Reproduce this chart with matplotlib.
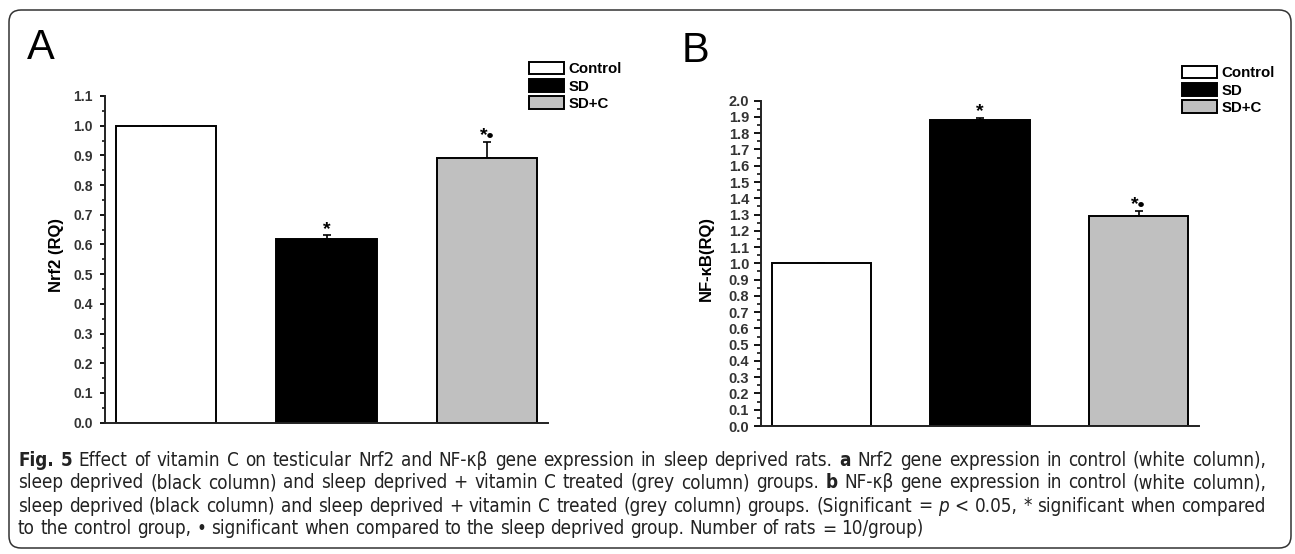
import numpy as np
import matplotlib
matplotlib.use("Agg")
import matplotlib.pyplot as plt
from matplotlib import font_manager
from matplotlib.patches import FancyBboxPatch
from matplotlib.transforms import IdentityTransform
from matplotlib.ticker import MultipleLocator, FormatStrFormatter

# data
groups = ["Control", "SD", "SD+C"]
bar_colors = ["white", "black", "#c0c0c0"]

nrf2_mean = [1.00, 0.62, 0.89]
nrf2_err = [0.0, 0.012, 0.055]
nrf2_marks = ["", "*", "*\u2022"]

nfkb_mean = [1.00, 1.88, 1.29]
nfkb_err = [0.0, 0.015, 0.03]
nfkb_marks = ["", "*", "*\u2022"]

caption_lines = [
    "!Fig. !5 Effect of vitamin C on testicular Nrf2 and NF-\u03ba\u03b2 gene expression in sleep deprived rats. !a Nrf2 gene expression in control (white column),",
    "sleep deprived (black column) and sleep deprived + vitamin C treated (grey column) groups. !b NF-\u03ba\u03b2 gene expression in control (white column),",
    "sleep deprived (black column) and sleep deprived + vitamin C treated (grey column) groups. (Significant = ~p < 0.05, * significant when compared",
    "to the control group, \u2022 significant when compared to the sleep deprived group. Number of rats = 10/group)",
]

W, H = 1295, 554
plt.rcParams["font.family"] = ["Liberation Sans", "DejaVu Sans"]
fig = plt.figure(figsize=(W / 100, H / 100), dpi=100)


def panel(rect, means, errs, marks, ytop, ylabel, lab_xy, fs, tick_len, pad):
    ax = fig.add_axes(rect)
    x = np.arange(len(groups))
    bars = ax.bar(x, means, width=0.625, color=bar_colors, edgecolor="black",
                  linewidth=1.4, zorder=2)
    ax.errorbar(x, means, yerr=[np.zeros(len(errs)), errs], fmt="none",
                ecolor="black", elinewidth=1.2, capsize=3.2, capthick=1.2, zorder=1)
    for xi, m, e, s in zip(x, means, errs, marks):
        if s:
            ax.annotate(s, xy=(xi, m + e), xytext=(0, 1), textcoords="offset points",
                        ha="center", va="baseline", fontsize=14, fontweight="bold")
    ax.set_xlim(-0.38, 2.38)
    ax.set_ylim(0, ytop)
    ax.set_xticks([])
    ax.yaxis.set_major_locator(MultipleLocator(0.1))
    ax.yaxis.set_minor_locator(MultipleLocator(0.05))
    ax.yaxis.set_major_formatter(FormatStrFormatter("%.1f"))
    ax.tick_params(axis="y", which="major", length=tick_len, width=1.3, pad=pad,
                   labelsize=fs, labelcolor="#333333")
    ax.tick_params(axis="y", which="minor", length=tick_len * 0.6, width=1.1)
    for t in ax.get_yticklabels():
        t.set_fontweight("bold")
    for sp in ["top", "right"]:
        ax.spines[sp].set_visible(False)
    for sp in ["left", "bottom"]:
        ax.spines[sp].set_linewidth(1.4)
        ax.spines[sp].set_color("#222222")
    ax.set_ylabel(ylabel, fontsize=12, fontweight="bold")
    ax.yaxis.set_label_coords(*lab_xy)
    return ax, bars


axA, barsA = panel([105 / W, 1 - 422.7 / H, 443 / W, 326.7 / H], nrf2_mean, nrf2_err,
                   nrf2_marks, 1.1, "Nrf2 (RQ)", (-0.093, 0.513), 10, 3.6, 5)
axB, barsB = panel([761 / W, 1 - 426 / H, 438 / W, 325.3 / H], nfkb_mean, nfkb_err,
                   nfkb_marks, 2.0, "NF-\u03baB(RQ)", (-0.107, 0.516), 10.5, 5, 3.5)

for ax, bars, (lx, ly) in [(axA, barsA, (529.3, 62)), (axB, barsB, (1182.3, 66))]:
    ax.legend(bars.patches, groups, loc="upper left", bbox_to_anchor=(lx / W, 1 - ly / H),
              bbox_transform=fig.transFigure, frameon=False, borderpad=0,
              borderaxespad=0, handlelength=2.3, handleheight=0.9,
              handletextpad=0.33, labelspacing=0.18,
              prop={"weight": "bold", "size": 10.8})

fig.text(27 / W, 1 - 28 / H, "A", fontsize=30, ha="left", va="top")
fig.text(682 / W, 1 - 31 / H, "B", fontsize=30, ha="left", va="top")

# rounded frame around everything
frame = FancyBboxPatch((9, 6), 1282, 538, boxstyle="round,pad=0,rounding_size=12",
                       transform=IdentityTransform(), fill=False,
                       edgecolor="#333333", linewidth=1.1)
fig.add_artist(frame)

# caption, justified word by word; prefer a narrow face if one is installed
narrow = [f for f in font_manager.fontManager.ttflist
          if ("Narrow" in f.name or "Condensed" in f.name or f.stretch == "condensed")
          and f.weight in (400, "normal", "regular") and f.style == "normal"]
if narrow:
    cap_font, cap_stretch = narrow[0].name, narrow[0].stretch
else:
    cap_font, cap_stretch = "Liberation Sans", "normal"
renderer = fig.canvas.get_renderer()


def props(word, size):
    weight, style = "normal", "normal"
    if word.startswith("!"):
        weight, word = "bold", word[1:]
    elif word.startswith("~"):
        style, word = "italic", word[1:]
    fp = font_manager.FontProperties(family=[cap_font, "DejaVu Sans"], weight=weight,
                                     style=style, size=size, stretch=cap_stretch)
    return word, fp


def width(s, fp):
    return renderer.get_text_width_height_descent(s, fp, ismath=False)[0]


def line_width(line, size):
    words = [props(w, size) for w in line.split(" ")]
    sp = width("x x", words[0][1]) - width("xx", words[0][1])
    return sum(width(w, fp) for w, fp in words) + sp * (len(words) - 1)


cap_size = 10 * 1238 / line_width(caption_lines[0], 10)
x0, x1 = 18, 1266
for i, line in enumerate(caption_lines):
    words = [props(w, cap_size) for w in line.split(" ")]
    widths = [width(w, fp) for w, fp in words]
    if i < len(caption_lines) - 1:
        gap = (x1 - x0 - sum(widths)) / (len(words) - 1)
    else:
        gap = width("x x", words[0][1]) - width("xx", words[0][1])
    x = x0
    y = 460 + i * 23
    for (w, fp), wd in zip(words, widths):
        fig.text(x / W, 1 - y / H, w, fontproperties=fp, ha="left", va="center",
                 color="#222222")
        x += wd + gap

fig.savefig("out.png", dpi=100)
